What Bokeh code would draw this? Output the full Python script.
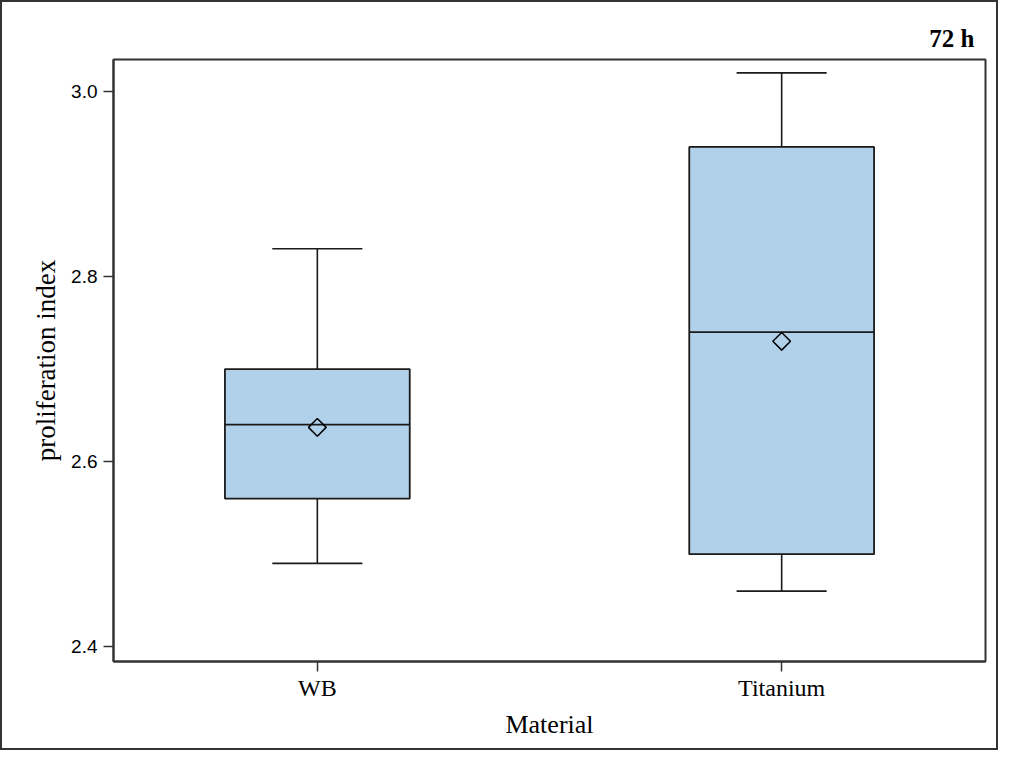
from bokeh.plotting import figure
from bokeh.models import FixedTicker, ColumnDataSource, Range1d
from bokeh.embed import file_html
from bokeh.resources import INLINE
import math

# Data
materials = ["WB", "Titanium"]
xpos = [1, 2]
whisker_low = [2.49, 2.46]
q1 = [2.56, 2.50]
median = [2.64, 2.74]
q3 = [2.70, 2.94]
whisker_high = [2.83, 3.02]
mean = [2.637, 2.73]
y_ticks = [2.4, 2.6, 2.8, 3.0]

box_w = 0.398
cap_w = 0.194

src = ColumnDataSource(dict(
    x=xpos, lo=whisker_low, q1=q1, med=median, q3=q3, hi=whisker_high, mean=mean,
    left=[v - box_w / 2 for v in xpos], right=[v + box_w / 2 for v in xpos],
    cl=[v - cap_w / 2 for v in xpos], cr=[v + cap_w / 2 for v in xpos],
))

p = figure(width=998, height=750, output_backend="svg", toolbar_location=None,
           x_range=Range1d(0.561, 2.439), y_range=Range1d(2.384, 3.0345),
           min_border_left=111, min_border_right=15, min_border_top=57, min_border_bottom=91,
           title="72 h",
           styles={"border": "2px solid #333"})

p.title.align = "right"
p.title.text_font = "Liberation Serif"
p.title.text_font_style = "bold"
p.title.text_font_size = "25px"
p.title.text_color = "black"
p.title.offset = 11
p.title.standoff = 15

line_col = "#1a1a1a"
# whiskers
p.segment(x0="x", y0="q3", x1="x", y1="hi", source=src, line_color=line_col, line_width=1.6)
p.segment(x0="x", y0="lo", x1="x", y1="q1", source=src, line_color=line_col, line_width=1.6)
p.segment(x0="cl", y0="hi", x1="cr", y1="hi", source=src, line_color=line_col, line_width=1.6)
p.segment(x0="cl", y0="lo", x1="cr", y1="lo", source=src, line_color=line_col, line_width=1.6)
# boxes
p.quad(left="left", right="right", bottom="q1", top="q3", source=src,
       fill_color="#b1d0ea", line_color=line_col, line_width=1.8)
# medians
p.segment(x0="left", y0="med", x1="right", y1="med", source=src, line_color=line_col, line_width=1.8)
# means
p.scatter(x="x", y="mean", source=src, marker="square", size=12.5, angle=math.pi / 4,
          fill_color=None, line_color="black", line_width=1.5)

p.xgrid.visible = False
p.ygrid.visible = False
p.outline_line_color = "#333"
p.outline_line_width = 2
p.background_fill_color = "white"
p.border_fill_color = "white"

# axes
p.xaxis.ticker = FixedTicker(ticks=xpos)
p.xaxis.major_label_overrides = {1: "WB", 2: "Titanium"}
p.yaxis.ticker = FixedTicker(ticks=y_ticks)
p.yaxis.major_label_overrides = {2.4: "2.4", 2.6: "2.6", 2.8: "2.8", 3.0: "3.0"}
for ax in (p.xaxis[0], p.yaxis[0]):
    ax.axis_line_color = "#333"
    ax.axis_line_width = 2
    ax.major_tick_line_color = "#333"
    ax.major_tick_line_width = 1.5
    ax.major_tick_out = 10
    ax.major_tick_in = 0
    ax.minor_tick_line_color = None
    ax.major_label_text_color = "black"
    ax.axis_label_text_color = "black"
    ax.axis_label_text_font = "Liberation Serif"
    ax.axis_label_text_font_style = "normal"

p.xaxis.axis_label = "Material"
p.yaxis.axis_label = "proliferation index"
p.xaxis.axis_label_text_font_size = "26px"
p.yaxis.axis_label_text_font_size = "27px"
p.xaxis.major_label_text_font = "Liberation Serif"
p.xaxis.major_label_text_font_size = "24px"
p.xaxis.major_label_standoff = 3
p.xaxis.axis_label_standoff = 6
p.yaxis.major_label_text_font = "Liberation Sans"
p.yaxis.major_label_text_font_size = "19px"
p.yaxis.major_label_standoff = 6
p.yaxis.axis_label_standoff = 7

open("out.html", "w").write(file_html(p, INLINE))
